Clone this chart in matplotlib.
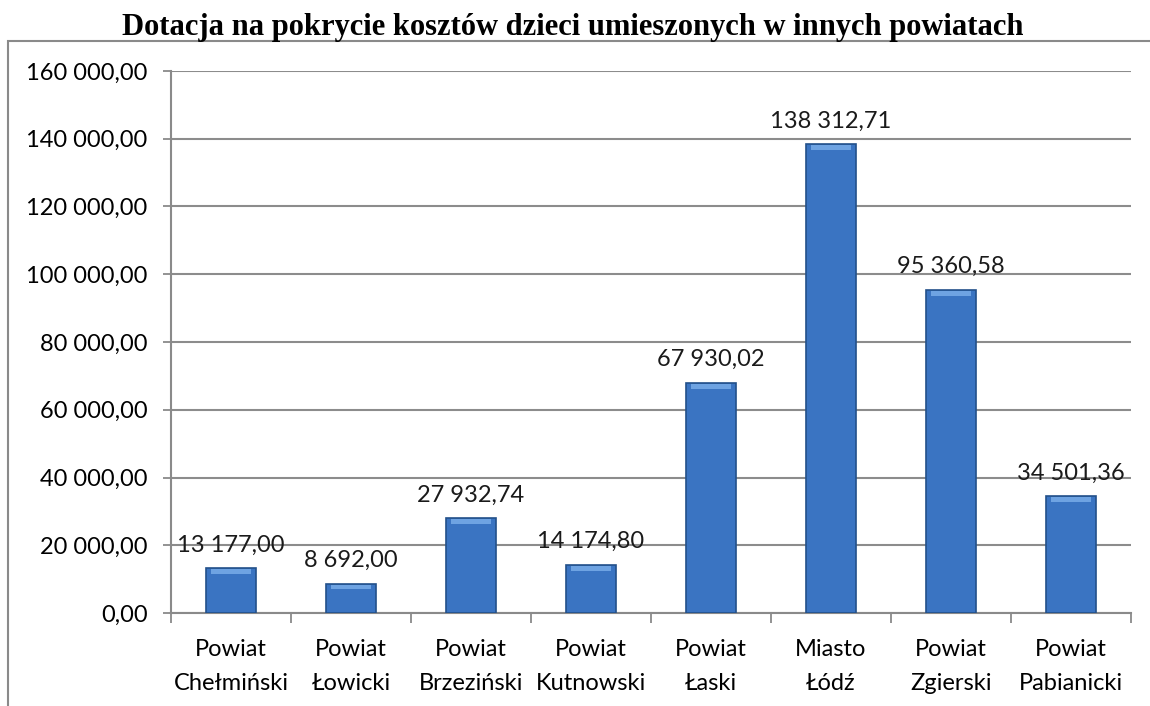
import matplotlib.pyplot as plt
from matplotlib.patches import Rectangle
import numpy as np

categories = ["Powiat\nChełmiński", "Powiat\nŁowicki", "Powiat\nBrzeziński", "Powiat\nKutnowski",
              "Powiat\nŁaski", "Miasto\nŁódź", "Powiat\nZgierski", "Powiat\nPabianicki"]
values = [13177.00, 8692.00, 27932.74, 14174.80, 67930.02, 138312.71, 95360.58, 34501.36]
yticks = [0, 20000, 40000, 60000, 80000, 100000, 120000, 140000, 160000]
title = "Dotacja na pokrycie kosztów dzieci umieszonych w innych powiatach"


def fmt(v):
    s = f"{v:,.2f}"
    return s.replace(",", " ").replace(".", ",")


fig = plt.figure(figsize=(11.5, 7.06), dpi=100)
ax = fig.add_axes([171/1150, 1-613/706, 960/1150, 542/706])

# outer chart frame (clipped by the image like in the original)
fig.patches.append(Rectangle((8/1150, -0.1), 1.2, 1-41/706+0.1, transform=fig.transFigure,
                             fill=False, edgecolor='#8a8a8a', lw=1.5))

x = np.arange(len(values))
bars = ax.bar(x, values, width=0.41, color='#3a74c2', edgecolor='#23508a', lw=1.2, zorder=3)
# simple bevel highlight on top
for b in bars:
    ax.add_patch(Rectangle((b.get_x()+0.04, b.get_height()-1700), b.get_width()-0.08, 1400,
                           color='#6ea3e2', lw=0, zorder=4))

for xi, v in zip(x, values):
    ax.annotate(fmt(v), (xi, v), xytext=(0, 12), textcoords='offset points',
                ha='center', va='baseline', fontsize=17, family='Lato', color='#1a1a1a')

ax.set_xlim(-0.5, len(values)-0.5)
ax.set_ylim(0, 160000)
ax.set_yticks(yticks)
ax.set_yticklabels([fmt(t) for t in yticks], fontsize=17, family='Lato')
ax.yaxis.grid(True, color='#8c8c8c', lw=1.5, zorder=0)
ax.set_axisbelow(True)

ax.set_xticks(np.arange(len(values)+1) - 0.5)
ax.set_xticklabels([])
ax.set_xticks(x, minor=True)
ax.set_xticklabels(categories, minor=True, fontsize=17, family='Lato', linespacing=1.75)
ax.tick_params(axis='x', which='major', length=7, width=1.3, color='#8a8a8a', direction='out')
ax.tick_params(axis='x', which='minor', length=0, pad=19)
ax.tick_params(axis='y', length=6, width=1.3, color='#8a8a8a', pad=11)

for s in ['top', 'right']:
    ax.spines[s].set_visible(False)
for s in ['left', 'bottom']:
    ax.spines[s].set_color('#8a8a8a')
    ax.spines[s].set_linewidth(1.5)

fig.text(573/1150, 1-28/706, title, ha='center', va='center', fontsize=22,
         fontweight='bold', family='Liberation Serif')

fig.savefig('out.png', dpi=100)
